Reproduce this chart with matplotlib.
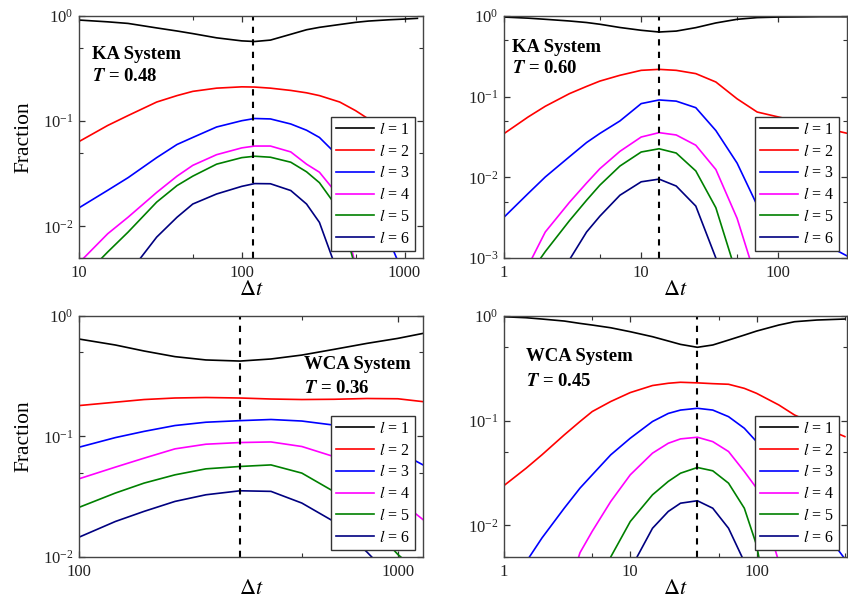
import numpy as np
import matplotlib
matplotlib.use("Agg")
import matplotlib.pyplot as plt
from matplotlib import ticker

plt.rcParams['font.family'] = 'serif'
plt.rcParams['font.serif'] = ['Liberation Serif', 'DejaVu Serif']
plt.rcParams['mathtext.fontset'] = 'stix'

nan = np.nan

# KA system, T = 0.48
t_ka48 = [10, 15, 20, 30, 40, 50, 70, 100, 120, 150, 200, 250, 300, 400, 500, 600, 800, 1000, 1200]
ka48_l1 = [0.915, 0.88, 0.85, 0.77, 0.72, 0.68, 0.62, 0.58, 0.572, 0.59, 0.67, 0.74, 0.78, 0.83, 0.87, 0.895, 0.92, 0.935, 0.95]
ka48_l2 = [0.064, 0.091, 0.113, 0.152, 0.175, 0.192, 0.206, 0.212, 0.211, 0.206, 0.196, 0.186, 0.175, 0.152, 0.126, 0.105, 0.07, 0.045, nan]
ka48_l3 = [0.015, 0.022, 0.029, 0.045, 0.060, 0.070, 0.088, 0.101, 0.106, 0.105, 0.094, 0.082, 0.070, 0.045, 0.028, 0.018, 0.0075, 0.0033, 0.0015]
ka48_l4 = [0.0045, 0.0085, 0.0122, 0.021, 0.030, 0.038, 0.048, 0.0557, 0.058, 0.058, 0.051, 0.039, 0.0327, 0.0189, 0.0042, 0.001, 0.0003, 0.0001, 0.00005]
ka48_l5 = [0.003, 0.0057, 0.0088, 0.017, 0.0244, 0.030, 0.039, 0.045, 0.0464, 0.0454, 0.0407, 0.033, 0.026, 0.014, 0.004, 0.0008, 0.0002, 0.0001, 0.00005]
ka48_l6 = [0.0008, 0.0015, 0.0035, 0.0079, 0.0122, 0.0163, 0.0203, 0.024, 0.0255, 0.0254, 0.0219, 0.0163, 0.0109, 0.0032, 0.0008, 0.0002, 0.0001, 0.00005, 0.00005]

# KA system, T = 0.60
t_ka60 = [1, 1.5, 2, 3, 4, 5, 7, 10, 13.5, 18, 25, 35, 50, 70, 100, 150, 200, 320]
ka60_l1 = [0.97, 0.94, 0.91, 0.867, 0.83, 0.79, 0.72, 0.665, 0.633, 0.65, 0.717, 0.82, 0.91, 0.955, 0.97, 0.975, 0.98, 0.98]
ka60_l2 = [0.0348, 0.056, 0.076, 0.109, 0.134, 0.156, 0.184, 0.212, 0.218, 0.212, 0.193, 0.152, 0.094, 0.0645, 0.056, 0.048, 0.042, 0.035]
ka60_l3 = [0.0032, 0.0063, 0.0101, 0.018, 0.027, 0.035, 0.050, 0.082, 0.091, 0.088, 0.073, 0.038, 0.015, 0.0045, 0.0027, 0.002, 0.0016, 0.00105]
ka60_l4 = [0.0003, 0.0008, 0.0021, 0.0049, 0.0085, 0.0128, 0.021, 0.0316, 0.0358, 0.0335, 0.025, 0.0125, 0.0031, 0.0005, 0.0001, 0.00005, 0.00005, 0.00005]
ka60_l5 = [0.0002, 0.0006, 0.0012, 0.0029, 0.0052, 0.0080, 0.0138, 0.0206, 0.0226, 0.0200, 0.0120, 0.0042, 0.0006, 0.0001, 0.00005, 0.00005, 0.00005, 0.00005]
ka60_l6 = [0.00005, 0.0001, 0.0002, 0.00095, 0.0021, 0.0033, 0.0060, 0.0088, 0.0095, 0.0078, 0.0044, 0.0010, 0.0002, 0.00005, 0.00005, 0.00005, 0.00005, 0.00005]

# WCA system, T = 0.36
t_wca36 = [100, 130, 160, 200, 250, 320, 400, 500, 630, 800, 1000, 1200]
wca36_l1 = [0.641, 0.572, 0.51, 0.458, 0.43, 0.421, 0.438, 0.472, 0.526, 0.59, 0.649, 0.714]
wca36_l2 = [0.18, 0.192, 0.202, 0.208, 0.21, 0.208, 0.204, 0.202, 0.203, 0.206, 0.205, 0.194]
wca36_l3 = [0.0813, 0.0977, 0.11, 0.123, 0.131, 0.135, 0.138, 0.134, 0.124, 0.105, 0.075, 0.058]
wca36_l4 = [0.0445, 0.0556, 0.066, 0.0788, 0.0861, 0.0889, 0.0899, 0.0824, 0.068, 0.05, 0.03, 0.0204]
wca36_l5 = [0.0258, 0.0339, 0.041, 0.048, 0.0538, 0.0563, 0.058, 0.0496, 0.0349, 0.020, 0.0105, 0.007]
wca36_l6 = [0.0146, 0.0197, 0.0239, 0.0289, 0.0328, 0.0354, 0.035, 0.028, 0.0197, 0.011, 0.006, 0.004]

# WCA system, T = 0.45
t_wca45 = [1, 1.5, 2, 3, 4, 5, 7, 10, 15, 20, 25, 34, 45, 60, 80, 100, 150, 200, 300, 500]
wca45_l1 = [0.978, 0.957, 0.93, 0.89, 0.845, 0.815, 0.768, 0.704, 0.631, 0.574, 0.533, 0.5, 0.526, 0.586, 0.654, 0.714, 0.815, 0.877, 0.91, 0.93]
wca45_l2 = [0.024, 0.0352, 0.0472, 0.073, 0.098, 0.122, 0.152, 0.185, 0.216, 0.227, 0.232, 0.229, 0.225, 0.222, 0.203, 0.182, 0.141, 0.113, 0.091, 0.0704]
wca45_l3 = [0.0015, 0.0045, 0.0076, 0.0146, 0.0227, 0.0304, 0.0471, 0.0679, 0.098, 0.117, 0.126, 0.131, 0.126, 0.109, 0.0845, 0.063, 0.035, 0.022, 0.011, 0.0048]
wca45_l4 = [0.0001, 0.0002, 0.0005, 0.0018, 0.0055, 0.0088, 0.0169, 0.0304, 0.0489, 0.0608, 0.0669, 0.0694, 0.063, 0.0507, 0.0327, 0.0227, 0.0045, 0.0015, 0.0003, 0.0001]
wca45_l5 = [0.00005, 0.0001, 0.0001, 0.0003, 0.0008, 0.0018, 0.0050, 0.0109, 0.0196, 0.0263, 0.0315, 0.0357, 0.0332, 0.0253, 0.0146, 0.0065, 0.0005, 0.0001, 0.00005, 0.00005]
wca45_l6 = [0.00005, 0.0001, 0.0002, 0.0004, 0.0007, 0.001, 0.002, 0.0038, 0.0094, 0.0136, 0.0163, 0.0172, 0.0146, 0.0094, 0.0045, 0.0015, 0.0002, 0.00005, 0.00005, 0.00005]

# time of the l = 1 minimum (dashed line) in each panel
t_min = [118, 13.5, 320, 34]

systems = ['KA System', 'KA System', 'WCA System', 'WCA System']
temps = ['0.48', '0.60', '0.36', '0.45']

colors = ['black', '#ff0000', '#0000ff', '#ff00ff', '#008000', '#000080']
labels = [r'$l$ = %d' % i for i in range(1, 7)]

panels = [
    (t_ka48, [ka48_l1, ka48_l2, ka48_l3, ka48_l4, ka48_l5, ka48_l6]),
    (t_ka60, [ka60_l1, ka60_l2, ka60_l3, ka60_l4, ka60_l5, ka60_l6]),
    (t_wca36, [wca36_l1, wca36_l2, wca36_l3, wca36_l4, wca36_l5, wca36_l6]),
    (t_wca45, [wca45_l1, wca45_l2, wca45_l3, wca45_l4, wca45_l5, wca45_l6]),
]

xlims = [(10, 1300), (1, 316), (100, 1200), (1, 520)]
ylims = [(0.005, 1), (0.001, 1), (0.01, 1), (0.005, 1)]
text_pos = [(0.038, 0.84, 0.75), (0.023, 0.87, 0.785), (0.654, 0.796, 0.699), (0.063, 0.83, 0.729)]

rects = [
    [0.0932, 0.5693, 0.4057, 0.4040],
    [0.5943, 0.5693, 0.4045, 0.4040],
    [0.0932, 0.0701, 0.4057, 0.4028],
    [0.5943, 0.0701, 0.4045, 0.4028],
]

fig = plt.figure(figsize=(8.48, 5.99), dpi=100)

for i, (t, series) in enumerate(panels):
    ax = fig.add_axes(rects[i])
    for y, c, lab in zip(series, colors, labels):
        ax.plot(t, y, color=c, lw=1.2, label=lab)
    ax.axvline(t_min[i], color='black', lw=1.5, ls=(0, (3, 3)))

    ax.set_xscale('log')
    ax.set_yscale('log')
    ax.set_xlim(*xlims[i])
    ax.set_ylim(*ylims[i])

    ax.xaxis.set_major_locator(ticker.LogLocator(base=10))
    ax.xaxis.set_minor_locator(ticker.LogLocator(base=10, subs=[5]))
    ax.yaxis.set_major_locator(ticker.LogLocator(base=10))
    ax.yaxis.set_minor_locator(ticker.LogLocator(base=10, subs=[5]))
    ax.xaxis.set_major_formatter(ticker.FuncFormatter(lambda v, p: '%g' % v))
    ax.xaxis.set_minor_formatter(ticker.NullFormatter())
    ax.yaxis.set_minor_formatter(ticker.NullFormatter())

    ax.tick_params(which='both', direction='in', top=True, right=True,
                   colors='#333333', labelcolor='#222222', labelsize=12)
    ax.tick_params(which='major', length=4, width=0.9)
    ax.tick_params(which='minor', length=3, width=0.8)
    ax.tick_params(axis='x', which='major', pad=5)
    ax.tick_params(axis='y', which='major', pad=4)
    for sp in ax.spines.values():
        sp.set_color('#444444')
        sp.set_linewidth(1.0)

    ax.set_xlabel(r'$\Delta t$', fontsize=16, labelpad=0)
    if i % 2 == 0:
        ax.set_ylabel('Fraction', fontsize=15.5, labelpad=7)

    tx, ty1, ty2 = text_pos[i]
    ax.text(tx, ty1, systems[i], transform=ax.transAxes, fontsize=13.5,
            fontweight='bold', va='center', ha='left')
    ax.text(tx, ty2, r'$\mathbfit{T}$ = ' + temps[i], transform=ax.transAxes,
            fontsize=13.5, fontweight='bold', va='center', ha='left')

    leg = ax.legend(loc='lower right', bbox_to_anchor=(0.977, 0.027),
                    borderaxespad=0, fontsize=11.5, fancybox=False,
                    edgecolor='#333333', framealpha=1, handlelength=2.4,
                    handletextpad=0.3, labelspacing=0.36, borderpad=0.3)
    leg.get_frame().set_linewidth(1.0)

fig.savefig('out.png', dpi=100)
